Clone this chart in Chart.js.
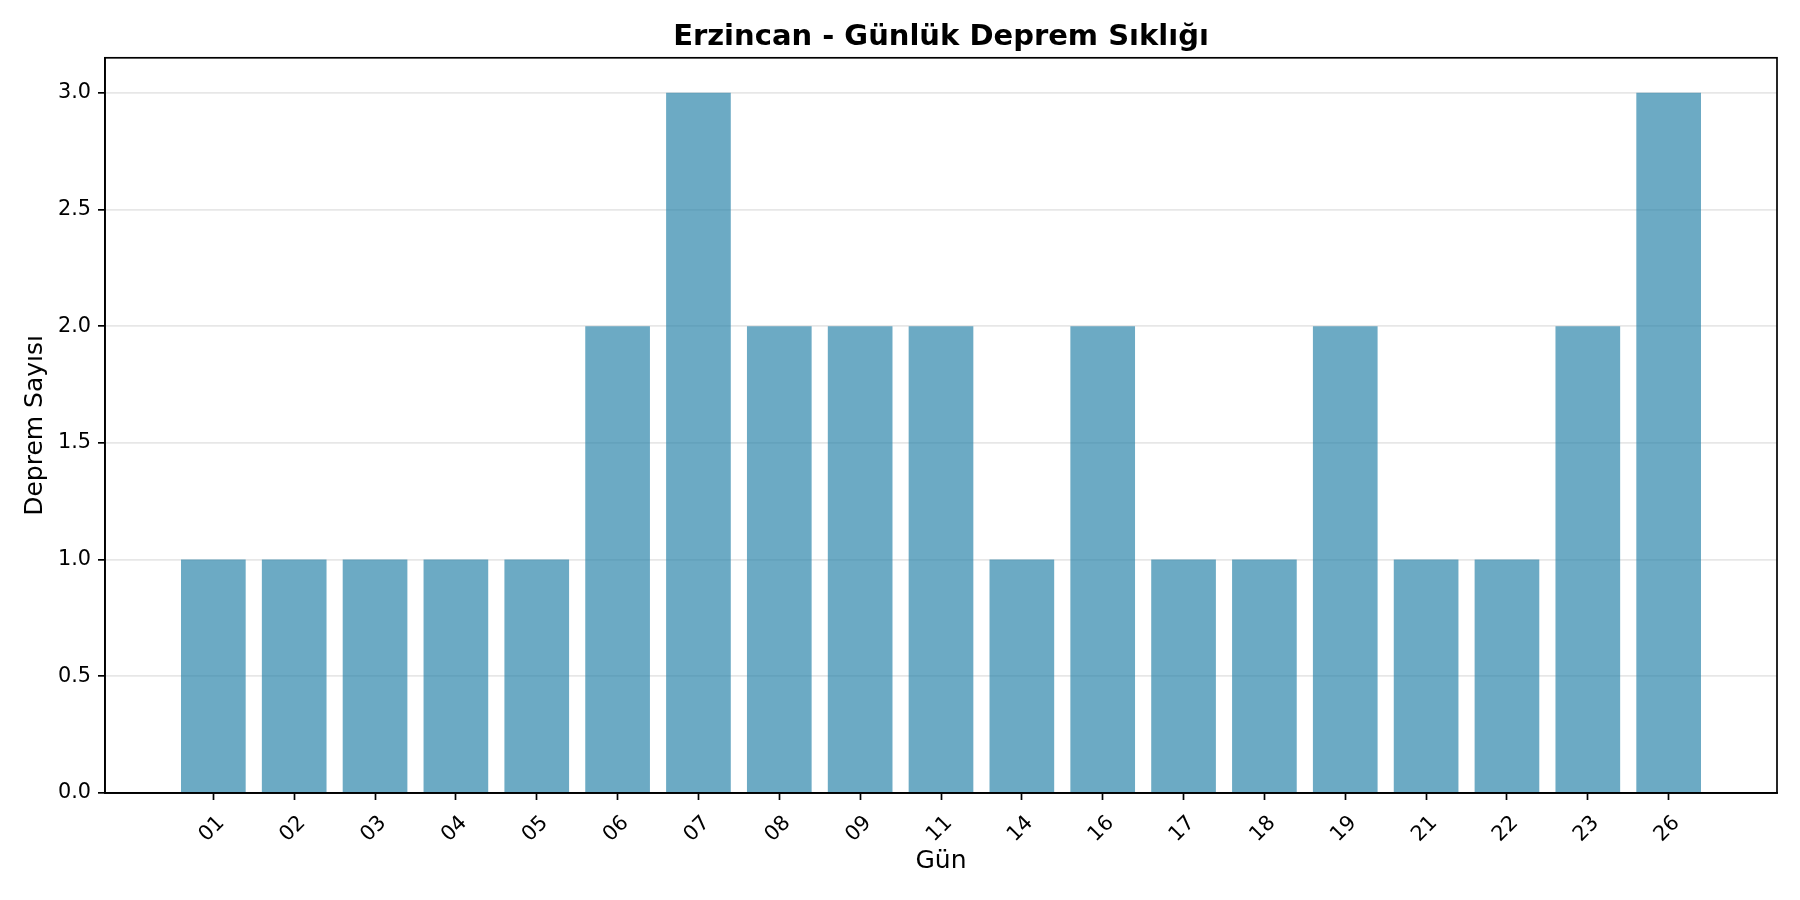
<!DOCTYPE html>
<html lang="tr">
  <head>
    <meta charset="UTF-8" />
    <title>Erzincan - Günlük Deprem Sıklığı</title>
    <script src="https://cdn.jsdelivr.net/npm/chart.js"></script>
    <style>
      html, body { margin: 0; padding: 0; background: #fff; }
      #wrap { width: 1800px; height: 900px; }
    </style>
  </head>
  <body>
    <div id="wrap"><canvas id="chart" width="1800" height="900"></canvas></div>
    <script>
      const days = ["01", "02", "03", "04", "05", "06", "07", "08", "09", "11",
                    "14", "16", "17", "18", "19", "21", "22", "23", "26"];
      const counts = [1, 1, 1, 1, 1, 2, 3, 2, 2, 2, 1, 2, 1, 1, 2, 1, 1, 2, 3];
      const yTicks = [0, 0.5, 1.0, 1.5, 2.0, 2.5, 3.0];

      const font = "'DejaVu Sans', sans-serif";

      // top and right spines, matplotlib style box
      const frame = {
        id: "frame",
        afterLayout(chart) {
          // centre the title over the plot area, not the canvas
          const t = chart.titleBlock;
          if (t) {
            t.left = chart.chartArea.left;
            t.right = chart.chartArea.right;
            t.width = t.right - t.left;
          }
        },
        afterDraw(chart) {
          const { ctx, chartArea: a } = chart;
          ctx.save();
          ctx.strokeStyle = "#000";
          ctx.lineWidth = 1.7;
          ctx.strokeRect(a.left, a.top, a.right - a.left, a.bottom - a.top);
          ctx.restore();
        },
      };

      new Chart(document.getElementById("chart"), {
        type: "bar",
        data: {
          datasets: [
            {
              data: counts.map((v, i) => ({ x: i, y: v })),
              backgroundColor: "rgba(46, 134, 171, 0.7)",
              borderWidth: 0,
              barPercentage: 0.8,
              categoryPercentage: 1.0,
            },
          ],
        },
        options: {
          responsive: false,
          devicePixelRatio: 1,
          animation: false,
          layout: { padding: { left: 0, right: 23, top: 0, bottom: 0 } },
          plugins: {
            legend: { display: false },
            tooltip: { enabled: false },
            title: {
              display: true,
              text: "Erzincan - Günlük Deprem Sıklığı",
              color: "#000",
              font: { family: font, size: 29, weight: "bold", lineHeight: 1.2 },
              padding: { top: 20, bottom: 3 },
            },
          },
          scales: {
            x: {
              type: "linear",
              offset: false,
              min: -1.34,
              max: 19.34,
              afterBuildTicks(scale) {
                scale.ticks = days.map((d, i) => ({ value: i }));
              },
              afterFit(scale) {
                scale.height = 107;
              },
              grid: {
                offset: false,
                drawOnChartArea: false,
                tickColor: "#000",
                tickLength: 7,
                tickWidth: 1.7,
              },
              border: { display: true, color: "#000", width: 1.7 },
              ticks: {
                color: "#000",
                font: { family: font, size: 20.8 },
                minRotation: 45,
                maxRotation: 45,
                padding: 11,
                labelOffset: 8,
                callback: (v) => days[v],
              },
              title: {
                display: true,
                text: "Gün",
                color: "#000",
                font: { family: font, size: 25, lineHeight: 1.2 },
                padding: { top: 0, bottom: 24 },
              },
            },
            y: {
              min: 0,
              max: 3.15,
              afterBuildTicks(scale) {
                scale.ticks = yTicks.map((v) => ({ value: v }));
              },
              afterFit(scale) {
                scale.width = 105;
              },
              grid: {
                color: "rgba(176, 176, 176, 0.3)",
                lineWidth: 1.7,
                tickColor: "#000",
                tickLength: 7,
                tickWidth: 1.7,
              },
              border: { display: true, color: "#000", width: 1.7 },
              ticks: {
                color: "#000",
                font: { family: font, size: 20.8 },
                padding: 7,
                callback: (v) => v.toFixed(1),
              },
              title: {
                display: true,
                text: "Deprem Sayısı",
                color: "#000",
                font: { family: font, size: 25, lineHeight: 1.2 },
                padding: { top: 20, bottom: 0 },
              },
            },
          },
        },
        plugins: [frame],
      });
    </script>
  </body>
</html>
